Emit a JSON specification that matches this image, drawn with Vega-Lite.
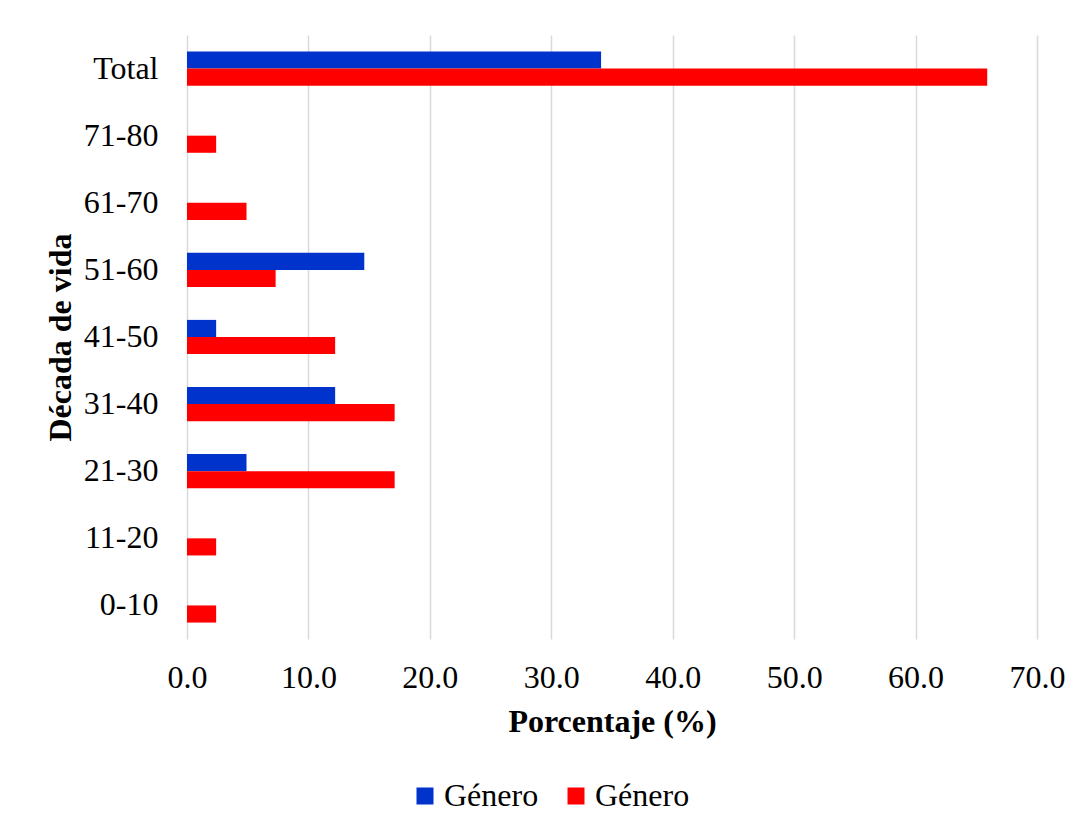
{
  "$schema": "https://vega.github.io/schema/vega-lite/v6.json",
  "autosize": {"type": "none"},
  "padding": {"left": 187, "top": 35, "right": 55, "bottom": 197},
  "width": 850,
  "height": 604,
  "background": "white",
  "config": {
    "view": {"stroke": null},
    "font": "Liberation Serif",
    "axis": {"labelFont": "Liberation Serif", "titleFont": "Liberation Serif", "labelColor": "#000000", "titleColor": "#000000"}
  },
  "data": {
    "values": [
      {"decada": "Total", "serie": "a", "pct": 34.1},
      {"decada": "Total", "serie": "b", "pct": 65.9},
      {"decada": "71-80", "serie": "b", "pct": 2.4},
      {"decada": "61-70", "serie": "b", "pct": 4.9},
      {"decada": "51-60", "serie": "a", "pct": 14.6},
      {"decada": "51-60", "serie": "b", "pct": 7.3},
      {"decada": "41-50", "serie": "a", "pct": 2.4},
      {"decada": "41-50", "serie": "b", "pct": 12.2},
      {"decada": "31-40", "serie": "a", "pct": 12.2},
      {"decada": "31-40", "serie": "b", "pct": 17.1},
      {"decada": "21-30", "serie": "a", "pct": 4.9},
      {"decada": "21-30", "serie": "b", "pct": 17.1},
      {"decada": "11-20", "serie": "b", "pct": 2.4},
      {"decada": "0-10", "serie": "b", "pct": 2.4}
    ]
  },
  "mark": {"type": "bar"},
  "encoding": {
    "y": {
      "field": "decada",
      "type": "nominal",
      "sort": ["Total", "71-80", "61-70", "51-60", "41-50", "31-40", "21-30", "11-20", "0-10"],
      "scale": {"paddingInner": 0.49, "paddingOuter": 0.245},
      "axis": {
        "title": "Década de vida",
        "titleFontSize": 32,
        "titleFontWeight": "bold",
        "titlePadding": 6,
        "labelFontSize": 32,
        "labelPadding": 29,
        "ticks": false,
        "domain": false,
        "grid": false
      }
    },
    "yOffset": {
      "field": "serie",
      "type": "nominal",
      "sort": ["a", "b"],
      "scale": {"domain": ["a", "b"], "paddingInner": 0, "paddingOuter": 0}
    },
    "x": {
      "field": "pct",
      "type": "quantitative",
      "scale": {"domain": [0, 70], "nice": false},
      "axis": {
        "title": "Porcentaje (%)",
        "titleFontSize": 32,
        "titleFontWeight": "bold",
        "titlePadding": 13,
        "values": [0, 10, 20, 30, 40, 50, 60, 70],
        "format": ".1f",
        "labelFontSize": 32,
        "labelPadding": 23,
        "labelFlush": false,
        "labelOverlap": false,
        "ticks": false,
        "domain": false,
        "grid": true,
        "gridColor": "#d9d9d9",
        "gridWidth": 1.5
      }
    },
    "color": {
      "field": "serie",
      "type": "nominal",
      "scale": {"domain": ["a", "b"], "range": ["#0033cc", "#ff0000"]},
      "legend": {
        "title": null,
        "orient": "none",
        "direction": "horizontal",
        "legendX": 222,
        "legendY": 745,
        "labelExpr": "'Género'",
        "labelFont": "Liberation Serif",
        "labelFontSize": 32,
        "labelColor": "#000000",
        "labelOffset": 3,
        "symbolType": "square",
        "symbolSize": 289,
        "symbolStrokeWidth": 0,
        "symbolOpacity": 1,
        "columnPadding": 21
      }
    }
  }
}
